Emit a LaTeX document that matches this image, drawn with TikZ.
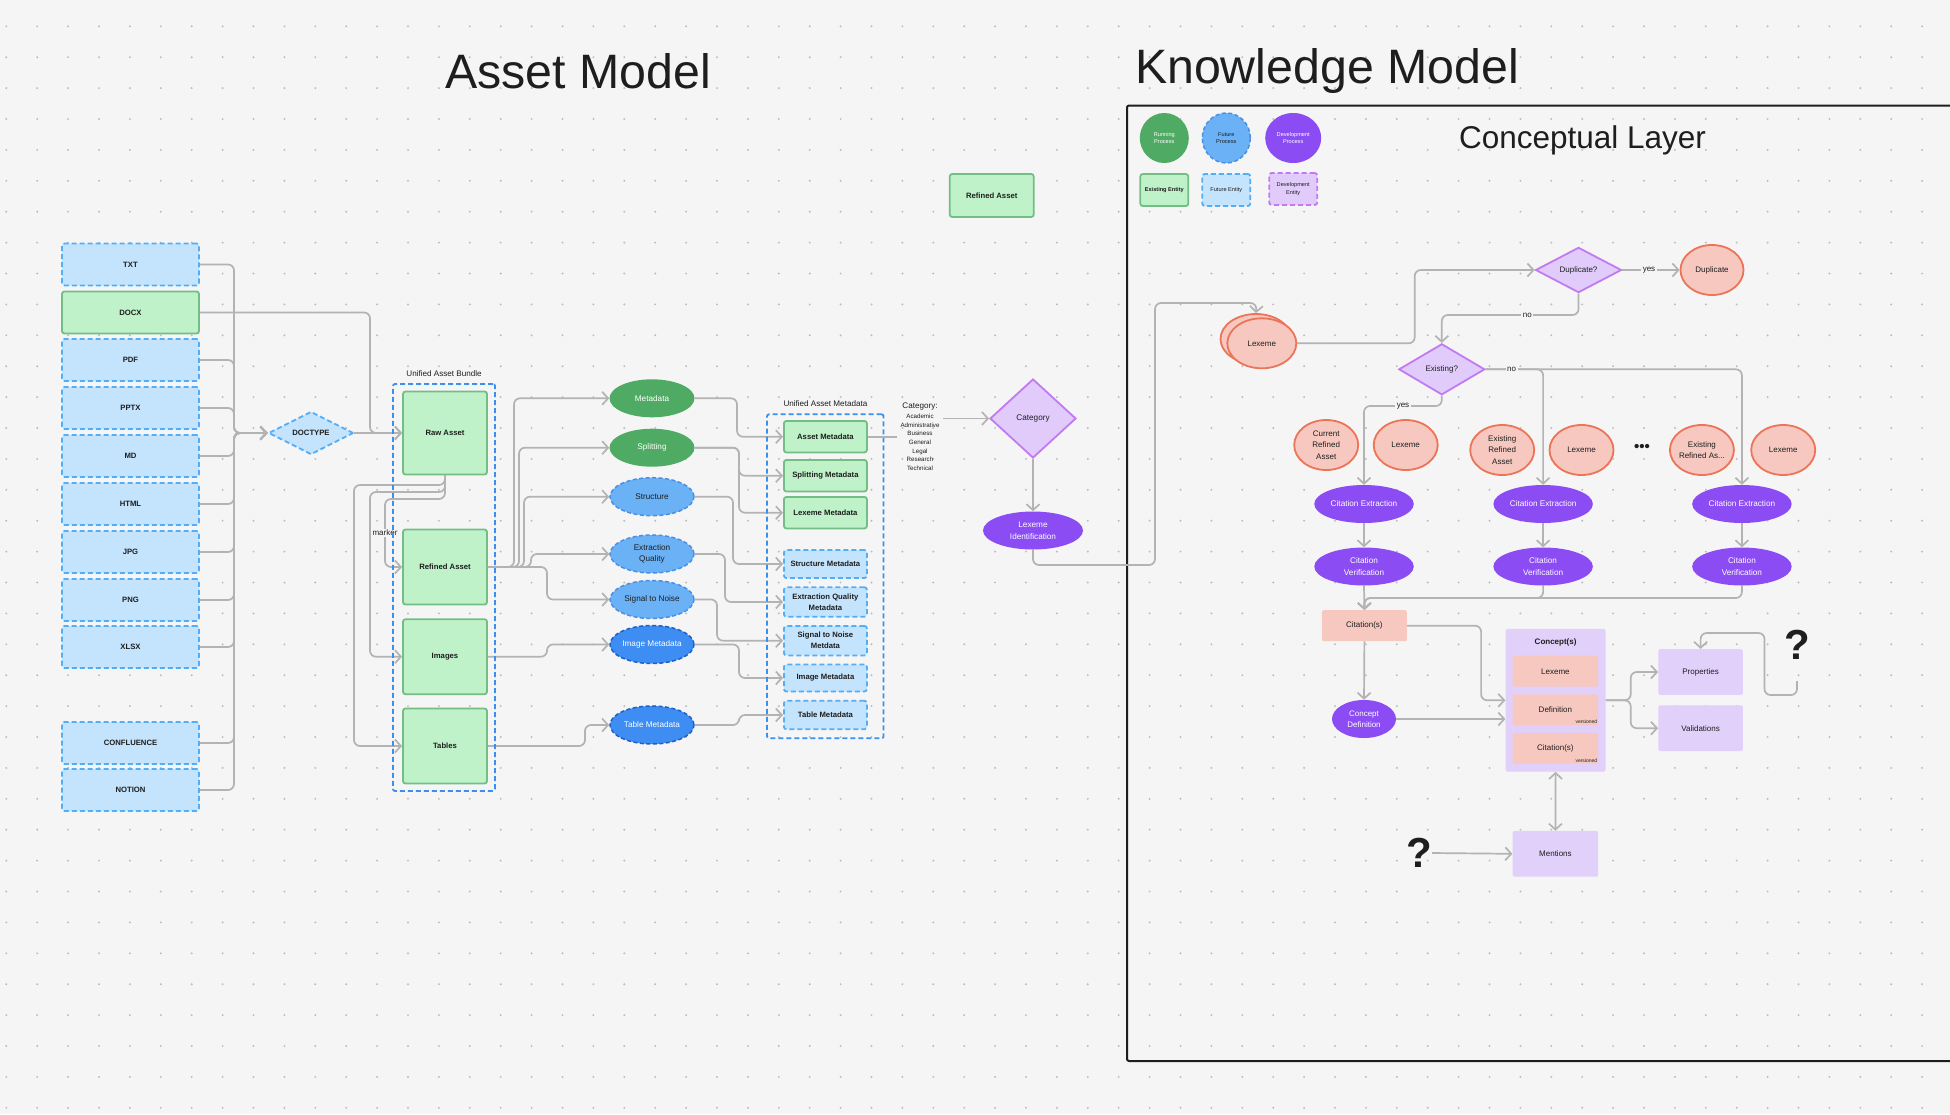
\documentclass[tikz,border=0pt]{standalone}
\usepackage{fontspec}
\setmainfont{Liberation Sans}
\usetikzlibrary{shapes.geometric,arrows.meta,calc}
\definecolor{bg}{HTML}{F5F5F5}
\definecolor{dotc}{HTML}{BDBDBD}
\definecolor{txt}{HTML}{1E1E1E}
\definecolor{lgray}{HTML}{B3B3B3}
\definecolor{entF}{HTML}{BFF2C8}
\definecolor{entB}{HTML}{72BE84}
\definecolor{futF}{HTML}{C4E3FC}
\definecolor{futB}{HTML}{52AEF8}
\definecolor{bundB}{HTML}{3C8FF0}
\definecolor{gP}{HTML}{4FAB64}
\definecolor{fPF}{HTML}{6AB1F6}
\definecolor{fPB}{HTML}{4A8FE3}
\definecolor{iPF}{HTML}{3D8DF2}
\definecolor{iPB}{HTML}{1F5FC8}
\definecolor{dP}{HTML}{8C4CF4}
\definecolor{devF}{HTML}{E0CBFB}
\definecolor{devB}{HTML}{C27AF2}
\definecolor{salF}{HTML}{F6C8C0}
\definecolor{salB}{HTML}{EC7459}
\definecolor{conF}{HTML}{E1D0FA}
\definecolor{frameC}{HTML}{1E1E1E}
\newcommand{\myfs}[2]{\fontsize{#1}{#2}\selectfont}
\begin{document}
\begin{tikzpicture}[x=1pt,y=-1pt,
  every node/.style={text=txt, inner sep=0pt, align=center, font=\myfs{8.2}{11.5}},
  sz/.style 2 args={minimum width=#1pt, minimum height=#2pt},
  conn/.style={draw=lgray, line width=1.7pt, rounded corners=6pt},
  arr/.style={-{Straight Barb[length=6pt,width=13pt]}},
  darr/.style={{Straight Barb[length=6pt,width=13pt]}-{Straight Barb[length=6pt,width=13pt]}},
  ent/.style={rectangle, rounded corners=2.5pt, fill=entF, draw=entB, line width=1.8pt, font=\bfseries\myfs{7.7}{11}},
  fent/.style={ent, fill=futF, draw=futB, dash pattern=on 5pt off 3pt},
  gproc/.style={ellipse, fill=gP, text=white},
  fproc/.style={ellipse, fill=fPF, draw=fPB, line width=1.5pt, dash pattern=on 4pt off 2.5pt},
  iproc/.style={ellipse, fill=iPF, draw=iPB, line width=1.5pt, dash pattern=on 4pt off 2.5pt, text=white},
  dproc/.style={ellipse, fill=dP, text=white},
  dent/.style={diamond, fill=devF, draw=devB, line width=1.8pt},
  sal/.style={ellipse, fill=salF, draw=salB, line width=1.8pt},
  salbox/.style={rectangle, rounded corners=2pt, fill=salF},
  conbox/.style={rectangle, rounded corners=2pt, fill=conF},
  lbl/.style={fill=bg, inner sep=1.5pt, font=\myfs{8}{10}},
  qmark/.style={font=\bfseries\myfs{42}{42}},
  dashbox/.style={draw=bundB, line width=1.8pt, dash pattern=on 5pt off 3pt, rounded corners=2pt}
]
\useasboundingbox (0,0) rectangle (1950,1114);
\fill[bg] (0,0) rectangle (1950,1114);
\foreach \i in {0,...,62} \foreach \j in {0,...,35} \fill[dotc] (6.3+30.9*\i,26.3+30.9*\j) circle (1.1);

% titles and frame
\node[font=\myfs{48.3}{52}] (t1) at (578,71) {Asset Model};
\node[font=\myfs{48.3}{52}] (t2) at (1327,71) {Knowledge Model};
\draw[frameC, line width=2pt, rounded corners=2pt] (1960,105.5) -- (1127,105.5) -- (1127,1061) -- (1960,1061);
\node[font=\myfs{31.5}{34}] (cl) at (1582.5,140) {Conceptual Layer};

% legend
\node[gproc, sz={49}{50}, font=\myfs{5.6}{7.5}] (lg1) at (1164.3,138) {Running\\Process};
\node[fproc, sz={48}{50}, font=\myfs{5.6}{7.5}] (lg2) at (1226.3,138) {Future\\Process};
\node[dproc, sz={56}{50}, font=\myfs{5.6}{7.5}] (lg3) at (1293.2,138) {Development\\Process};
\node[ent, sz={48}{32}, font=\bfseries\myfs{5.6}{7.5}] (lg4) at (1164.3,190) {Existing Entity};
\node[fent, sz={48}{32}, font=\myfs{5.6}{7.5}] (lg5) at (1226.3,190) {Future Entity};
\node[rectangle, rounded corners=2.5pt, fill=devF, draw=devB, line width=1.8pt, dash pattern=on 5pt off 3pt, sz={48}{32}, font=\myfs{5.6}{7.5}] (lg6) at (1293.2,189) {Development\\Entity};

% left column
\node[fent, sz={137}{42}] (txt) at (130.5,264.5) {TXT};
\node[ent, sz={137}{42}] (docx) at (130.5,312.5) {DOCX};
\node[fent, sz={137}{42}] (pdf) at (130.5,360) {PDF};
\node[fent, sz={137}{42}] (pptx) at (130.5,408) {PPTX};
\node[fent, sz={137}{42}] (md) at (130.5,456) {MD};
\node[fent, sz={137}{42}] (html) at (130.5,504) {HTML};
\node[fent, sz={137}{42}] (jpg) at (130.5,552) {JPG};
\node[fent, sz={137}{42}] (png) at (130.5,600) {PNG};
\node[fent, sz={137}{42}] (xlsx) at (130.5,647) {XLSX};
\node[fent, sz={137}{42}] (conf) at (130.5,743) {CONFLUENCE};
\node[fent, sz={137}{42}] (notion) at (130.5,790) {NOTION};

\node[diamond, fill=futF, draw=futB, line width=1.8pt, dash pattern=on 5pt off 3pt, sz={85}{43}, font=\bfseries\myfs{7.7}{11}] (doctype) at (311,433) {DOCTYPE};

% bundle
\node[ent, sz={84}{83}] (raw) at (445,433) {Raw Asset};
\node[ent, sz={84}{75}] (refined) at (445,567) {Refined Asset};
\node[ent, sz={84}{75}] (images) at (445,656.7) {Images};
\node[ent, sz={84}{75}] (tables) at (445,746) {Tables};
\node[font=\myfs{8.1}{10}] (uablbl) at (444,374) {Unified Asset Bundle};

% process ellipses
\node[gproc, sz={85}{38}] (meta) at (652,398.3) {Metadata};
\node[gproc, sz={85}{38}] (split) at (652,447.7) {Splitting};
\node[fproc, sz={84}{38}] (struct) at (652,496.7) {Structure};
\node[fproc, sz={84}{38}] (exq) at (652,554) {Extraction\\Quality};
\node[fproc, sz={84}{38}] (s2n) at (652,599.5) {Signal to Noise};
\node[iproc, sz={84}{38}] (imgm) at (652,644.5) {Image Metadata};
\node[iproc, sz={84}{38}] (tabm) at (652,725) {Table Metadata};

% unified asset metadata
\node[font=\myfs{8.1}{10}] (uamlbl) at (825.4,404) {Unified Asset Metadata};
\node[ent, sz={83}{31.5}] (am) at (825.4,436.7) {Asset Metadata};
\node[ent, sz={83}{31.5}] (spm) at (825.4,475.7) {Splitting Metadata};
\node[ent, sz={83}{31.5}] (lxm) at (825.4,512.7) {Lexeme Metadata};
\node[fent, sz={83}{28}] (stm) at (825.4,564) {Structure Metadata};
\node[fent, sz={83}{29.5}] (eqm) at (825.4,602) {Extraction Quality\\Metadata};
\node[fent, sz={83}{29.5}] (snm) at (825.4,640.7) {Signal to Noise\\Metdata};
\node[fent, sz={83}{27}] (imm) at (825.4,678) {Image Metadata};
\node[fent, sz={83}{28.5}] (tbm) at (825.4,715) {Table Metadata};

% category
\node[font=\myfs{8.1}{10}] (cattl) at (920,406.7) {Category:};
\node[font=\myfs{6.2}{8.7}] (catls) at (920,442.3) {Academic\\Administrative\\Business\\General\\Legal\\Research\\Technical};
\coordinate (catend) at (897,436.7);
\coordinate (catout) at (943,418.5);
\node[dent, sz={86}{79}] (cat) at (1033,418.5) {Category};
\node[dproc, sz={100}{38}] (lexid) at (1033,530.5) {Lexeme\\Identification};
\node[ent, sz={84}{43}] (rast) at (991.7,195.5) {Refined Asset};

% knowledge side
\node[sal, sz={71}{50}] (lexA) at (1256,339) {};
\node[sal, sz={69}{50}, font=\myfs{8}{10}] (lexB) at (1261.8,343.3) {Lexeme};
\coordinate (lxtop) at (1256.5,303);
\node[dent, sz={86}{31}, font=\myfs{8}{10}] (dup) at (1578.5,270) {Duplicate?};
\node[sal, sz={63}{50}, font=\myfs{8}{10}] (dupc) at (1712,270) {Duplicate};
\node[dent, sz={86}{51}, font=\myfs{8}{10}] (exi) at (1441.8,369.3) {Existing?};

\node[sal, sz={64}{50}, font=\myfs{8}{11.5}] (cra) at (1326.2,445) {Current\\Refined\\Asset};
\node[sal, sz={64}{50}, font=\myfs{8}{11.5}] (lx1) at (1405.7,445) {Lexeme};
\node[sal, sz={64}{50}, font=\myfs{8}{11.5}] (era) at (1502.2,450) {Existing\\Refined\\Asset};
\node[sal, sz={64}{50}, font=\myfs{8}{11.5}] (lx2) at (1581.5,450) {Lexeme};
\node[font=\bfseries\myfs{15}{15}] (ell) at (1642.1,447.7) {•••};
\node[sal, sz={64}{50}, font=\myfs{8}{11.5}, inner xsep=-4pt] (era3) at (1701.9,450) {Existing\\Refined As...};
\node[sal, sz={64}{50}, font=\myfs{8}{11.5}] (lx3) at (1783.2,450) {Lexeme};

\node[dproc, sz={99.5}{38}, font=\myfs{8.2}{11.5}] (ce1) at (1364,504) {Citation Extraction};
\node[dproc, sz={99.5}{38}, font=\myfs{8.2}{11.5}] (ce2) at (1543.1,504) {Citation Extraction};
\node[dproc, sz={99.5}{38}, font=\myfs{8.2}{11.5}] (ce3) at (1741.9,504) {Citation Extraction};
\node[dproc, sz={99.5}{38}, font=\myfs{8.2}{11.5}] (cv1) at (1364,566.5) {Citation\\Verification};
\node[dproc, sz={99.5}{38}, font=\myfs{8.2}{11.5}] (cv2) at (1543.1,566.5) {Citation\\Verification};
\node[dproc, sz={99.5}{38}, font=\myfs{8.2}{11.5}] (cv3) at (1741.9,566.5) {Citation\\Verification};

\node[salbox, sz={85}{31}, font=\myfs{8}{10}] (cites) at (1364.4,625.7) {Citation(s)};
\node[dproc, sz={64}{38}, font=\myfs{8}{11.5}] (cdef) at (1364,719) {Concept\\Definition};

\node[conbox, sz={100}{142.7}] (concepts) at (1555.6,700.3) {};
\node[font=\bfseries\myfs{8}{10}] (ctitle) at (1555.6,642.3) {Concept(s)};
\node[salbox, sz={85.6}{30.7}, font=\myfs{8}{10}] (cLex) at (1555.4,671.3) {Lexeme};
\node[salbox, sz={85.6}{30.7}, font=\myfs{8}{10}] (cDef) at (1555.4,709.7) {Definition};
\node[salbox, sz={85.6}{30.7}, font=\myfs{8}{10}] (cCit) at (1555.4,748.3) {Citation(s)};
\node[font=\myfs{5}{6}, anchor=south east] (v1) at ($(cDef.south east)+(-1,-1.5)$) {versioned};
\node[font=\myfs{5}{6}, anchor=south east] (v2) at ($(cCit.south east)+(-1,-1.5)$) {versioned};

\node[conbox, sz={84.6}{45.7}, font=\myfs{8}{10}] (props) at (1700.6,672) {Properties};
\node[conbox, sz={84.6}{45.7}, font=\myfs{8}{10}] (vals) at (1700.6,728.2) {Validations};
\node[conbox, sz={85.6}{45.7}, font=\myfs{8}{10}] (ment) at (1555.4,853.8) {Mentions};
\node[qmark] (q1) at (1797,645) {?};
\node[qmark] (q2) at (1419.1,853) {?};
\coordinate (q1b) at (1797,681);

% ---------- connectors: asset model
\coordinate (bus) at (234,433);
\foreach \n in {txt,pdf,pptx,md,html,jpg,png,xlsx,conf,notion}
  \draw[conn,arr] (\n.east) -| (bus) -- (doctype.west);
\draw[conn,arr] (docx.east) -| (370,433) -- (raw.west);
\draw[conn,arr] (doctype.east) -- (raw.west);
\draw[conn,arr] (raw.south) |- (354,485) |- (tables.west);
\draw[conn,arr] (raw.south) |- (370,492) |- (images.west);
\draw[conn,arr] (raw.south) |- (385,499) |- (refined.west);
\node[lbl] (mk) at (385,533) {marker};

\draw[conn,arr] (refined.east) -| (514,398.3) -- (meta.west);
\draw[conn,arr] (refined.east) -| (519,447.7) -- (split.west);
\draw[conn,arr] (refined.east) -| (524,496.7) -- (struct.west);
\draw[conn,arr] (refined.east) -| (531,554) -- (exq.west);
\draw[conn,arr] (refined.east) -| (547,599.5) -- (s2n.west);
\draw[conn,arr] (images.east) -| (547,644.5) -- (imgm.west);
\draw[conn,arr] (tables.east) -| (585,725) -- (tabm.west);

\draw[conn,arr] (meta.east) -| (737,436.7) -- (am.west);
\draw[conn,arr] (split.east) -| (739,475.7) -- (spm.west);
\draw[conn,arr] (split.east) -| (739,512.7) -- (lxm.west);
\draw[conn,arr] (struct.east) -| (733,564) -- (stm.west);
\draw[conn,arr] (exq.east) -| (725,602) -- (eqm.west);
\draw[conn,arr] (s2n.east) -| (717,640.7) -- (snm.west);
\draw[conn,arr] (imgm.east) -| (739,678) -- (imm.west);
\draw[conn,arr] (tabm.east) -| (739,715) -- (tbm.west);

\node[dashbox, sz={102}{407}] (uab) at (444,587.5) {};
\node[dashbox, sz={116.5}{324}] (uam) at (825.3,576.3) {};

\draw[conn] (am.east) -- (catend);
\draw[conn,arr] (catout) -- (cat.west);
\draw[conn,arr] (cat.south) -- (lexid.north);
\draw[conn,arr] (lexid.south) |- (1155,565) |- (lxtop) -- (lexA.north);

% ---------- connectors: knowledge model
\draw[conn,arr] (lexB.east) -| (1414.7,270) -- (dup.west);
\draw[conn,arr] (dup.east) -- (dupc.west);
\node[lbl] (yes1) at (1649,270) {yes};
\draw[conn,arr] (dup.south) |- (1441.8,315) -- (exi.north);
\node[lbl] (no1) at (1527.4,315) {no};
\draw[conn,arr] (exi.east) -| (ce3.north);
\draw[conn,arr] (exi.east) -| (ce2.north);
\node[lbl] (no2) at (1511.6,369.3) {no};
\draw[conn,arr] (exi.south) |- (1364,406) -- (ce1.north);
\node[lbl] (yes2) at (1403,406) {yes};

\draw[conn,arr] (ce1.south) -- (cv1.north);
\draw[conn,arr] (ce2.south) -- (cv2.north);
\draw[conn,arr] (ce3.south) -- (cv3.north);
\draw[conn,arr] (cv1.south) -- (cites.north);
\draw[conn,arr] (cv2.south) |- (1364.4,598) -- (cites.north);
\draw[conn,arr] (cv3.south) |- (1364.4,598) -- (cites.north);

\draw[conn,arr] (cites.east) -| (1481.1,700.3) -- (concepts.west);
\draw[conn,arr] (cites.south) -- (cdef.north);
\draw[conn,arr] (cdef.east) -- (cdef.east -| concepts.west);
\draw[conn,arr] (concepts.east) -| (1630.7,672) -- (props.west);
\draw[conn,arr] (concepts.east) -| (1630.7,728.2) -- (vals.west);
\draw[conn,arr] (q1b) |- (1764.5,695) |- (1700.6,633) -- (props.north);
\draw[conn,darr] (concepts.south) -- (ment.north);
\draw[conn,arr] (q2.east) -- (ment.west);
\end{tikzpicture}
\end{document}
